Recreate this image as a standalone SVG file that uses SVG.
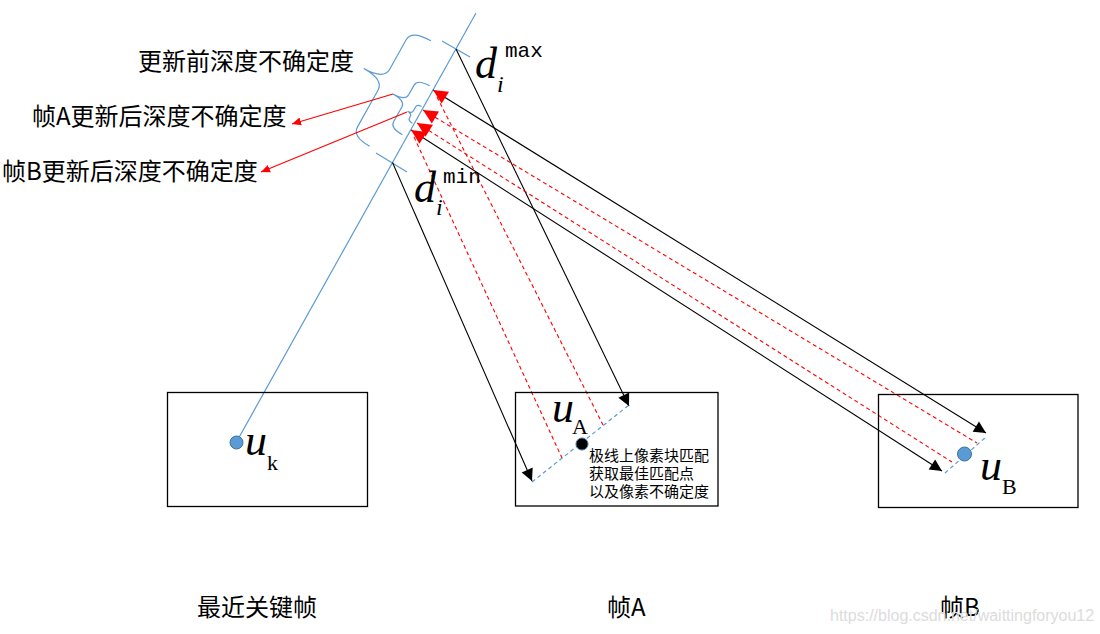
<svg xmlns="http://www.w3.org/2000/svg" width="1100" height="634" viewBox="0 0 1100 634">
<style>
.cjk{font-family:"Noto Sans CJK SC","Noto Sans",sans-serif;fill:#000}
.big{font-size:24px}
.small{font-size:15px}
.mi{font-family:"Liberation Serif",serif;font-style:italic;fill:#000}
.sub{font-family:"Liberation Serif",serif;fill:#000;font-size:22px}
.mono{font-family:"Liberation Mono",monospace;fill:#000;font-size:21px}
.blue{stroke:#5b9bd5;stroke-width:1.2;fill:none}
.bdash{stroke:#5b9bd5;stroke-width:1.2;fill:none;stroke-dasharray:4 3}
.blk{stroke:#000;stroke-width:1.1;fill:none}
.rdash{stroke:#ff0000;stroke-width:1.1;fill:none;stroke-dasharray:4 3}
.rsol{stroke:#ff0000;stroke-width:1.1;fill:none}
.box{stroke:#000;stroke-width:1.3;fill:none}
</style>
<defs>
<marker id="bEnd" markerUnits="userSpaceOnUse" markerWidth="14" markerHeight="14" viewBox="-13 -7 14 14" refX="0" refY="0" orient="auto"><path d="M0,0 L-12,-6 L-12,6 Z" fill="#000"/></marker>
<marker id="rStart" markerUnits="userSpaceOnUse" markerWidth="16" markerHeight="16" viewBox="-1 -8 16 16" refX="0" refY="0" orient="auto"><path d="M0,0 L14.5,-7 L14.5,7 Z" fill="#ff0000"/></marker>
<marker id="rEnd" markerUnits="userSpaceOnUse" markerWidth="10" markerHeight="10" viewBox="-9 -5 10 10" refX="0" refY="0" orient="auto"><path d="M0,0 L-9,-4 L-9,4 Z" fill="#ff0000"/></marker>
</defs>

<g id="connectors">
  <line class="blue" x1="237" y1="441" x2="476" y2="13"/>
  <line class="blue" x1="442" y1="41" x2="470" y2="57"/>
  <line class="blue" x1="376" y1="153" x2="407" y2="172"/>
  <g id="brace-before" transform="translate(456,49) rotate(-60.81)">
    <path class="blue" d="M-5,-26 Q-5,-48 -16,-48 L-50,-48 Q-62,-48 -62,-71 Q-62,-48 -74,-48 L-116,-48 Q-127,-48 -127,-28"/>
  </g>
  <g id="brace-A" transform="translate(456,49) rotate(-60.81)">
    <path class="blue" d="M-45,-5 Q-45,-19 -52,-19 L-63,-19 Q-70,-19 -70,-33 Q-70,-19 -77,-19 L-94,-19 Q-101,-19 -101,-5"/>
  </g>
  <g id="brace-B" transform="translate(456,49) rotate(-60.81)">
    <path class="blue" d="M-67,-2 Q-67,-7 -70,-7 L-75,-7 Q-78,-7 -78,-12 Q-78,-7 -81,-7 L-83,-7 Q-86,-7 -86,-2"/>
  </g>
  <line class="rsol" x1="393" y1="94" x2="292" y2="124" marker-end="url(#rEnd)"/>
  <line class="rsol" x1="407" y1="112" x2="261" y2="172" marker-end="url(#rEnd)"/>

  <line class="blk" x1="456" y1="49" x2="629" y2="406" marker-end="url(#bEnd)"/>
  <line class="blk" x1="392.5" y1="162.5" x2="532" y2="481" marker-end="url(#bEnd)"/>
  <line class="rdash" x1="437" y1="97" x2="603" y2="425"/>
  <line class="rdash" x1="414" y1="137" x2="562" y2="458"/>

  <line class="rdash" x1="423" y1="110" x2="977" y2="443" marker-start="url(#rStart)"/>
  <line class="rdash" x1="417" y1="123" x2="952" y2="462" marker-start="url(#rStart)"/>
  <line class="blk" x1="433" y1="90" x2="986" y2="433" marker-start="url(#rStart)" marker-end="url(#bEnd)"/>
  <line class="blk" x1="411" y1="130" x2="942" y2="471" marker-start="url(#rStart)" marker-end="url(#bEnd)"/>

  <line class="bdash" x1="532" y1="482" x2="629" y2="405"/>
  <line class="bdash" x1="945" y1="473" x2="986" y2="437"/>
</g>

<g id="labels-top">
  <text class="cjk big" x="138" y="70">更新前深度不确定度</text>
  <text class="cjk big" x="32" y="125">帧A更新后深度不确定度</text>
  <text class="cjk big" x="2" y="180">帧B更新后深度不确定度</text>
  <text class="mi" x="475" y="78" font-size="44">d</text>
  <text class="mi" x="497" y="92" font-size="24">i</text>
  <text class="mono" x="505" y="57">max</text>
  <text class="mi" x="414" y="202" font-size="44">d</text>
  <text class="mi" x="436" y="215" font-size="24">i</text>
  <text class="mono" x="443" y="183">min</text>
</g>

<g id="frame-k">
  <rect class="box" x="167.5" y="392.5" width="200" height="114"/>
  <circle cx="236.5" cy="442.5" r="6.5" fill="#5b9bd5" stroke="#41719c" stroke-width="1"/>
  <text class="mi" x="245" y="455" font-size="44">u</text>
  <text class="sub" x="267" y="470">k</text>
  <text class="cjk big" x="197" y="616">最近关键帧</text>
</g>

<g id="frame-A">
  <rect class="box" x="515.5" y="392.5" width="202.5" height="113.5"/>
  <circle cx="582" cy="444" r="6" fill="#000" stroke="#41719c" stroke-width="1"/>
  <text class="mi" x="552" y="422" font-size="44">u</text>
  <text class="sub" x="572" y="434">A</text>
  <text class="cjk small"><tspan x="589" y="461">极线上像素块匹配</tspan><tspan x="589" y="479">获取最佳匹配点</tspan><tspan x="589" y="497">以及像素不确定度</tspan></text>
  <text class="cjk big" x="607" y="616">帧A</text>
</g>

<g id="frame-B">
  <rect class="box" x="878.5" y="394.5" width="199.5" height="113"/>
  <circle cx="964.5" cy="454" r="7" fill="#5b9bd5" stroke="#41719c" stroke-width="1"/>
  <text class="mi" x="980" y="480" font-size="44">u</text>
  <text class="sub" x="1002" y="494">B</text>
  <text class="cjk big" x="940" y="616">帧B</text>
</g>

<text x="830" y="621" font-family="Liberation Sans,sans-serif" font-size="16" fill="#dcdcdc">https://blog.csdn.net/waittingforyou12</text>
</svg>
